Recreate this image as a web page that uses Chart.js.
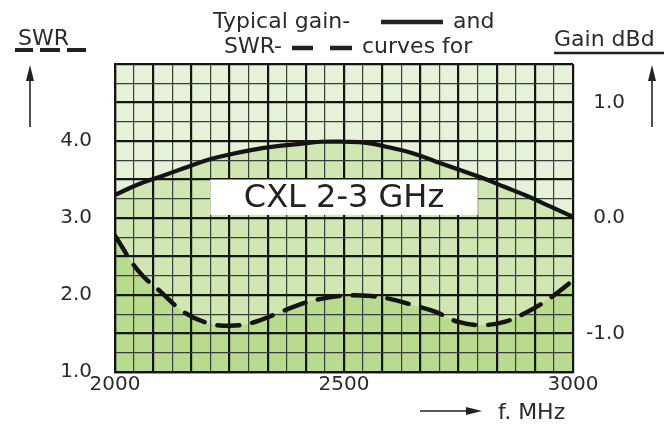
<!DOCTYPE html>
<html>
<head>
<meta charset="utf-8">
<script src="https://cdn.jsdelivr.net/npm/chart.js@4.4.1/dist/chart.umd.min.js"></script>
<style>
  html, body { margin: 0; padding: 0; background: #fff; }
  #wrap { position: relative; width: 671px; height: 430px; }
  #bg { position: absolute; background: #e6f2d8; }
  #chart { position: absolute; left: 0; top: 0; }
</style>
</head>
<body>
<div id="wrap">
  <div id="bg"></div>
  <canvas id="chart" width="671" height="430"></canvas>
</div>
<script>
// frequency points, MHz
var freqs = [2000, 2050, 2100, 2150, 2200, 2250, 2300, 2350, 2400, 2450, 2500,
             2550, 2600, 2650, 2700, 2750, 2800, 2850, 2900, 2950, 3000];
// SWR (dashed)
var swrValues = [2.77, 2.32, 2.04, 1.78, 1.64, 1.60, 1.64, 1.75, 1.87, 1.95, 1.99,
                 1.99, 1.95, 1.87, 1.78, 1.65, 1.61, 1.65, 1.78, 1.96, 2.19];
// gain dBd (solid)
var gainValues = [0.20, 0.29, 0.36, 0.43, 0.50, 0.55, 0.59, 0.62, 0.64, 0.66, 0.66,
                  0.65, 0.61, 0.56, 0.49, 0.42, 0.35, 0.27, 0.19, 0.10, 0.01];

var xLabels = [2000, 2500, 3000];
var swrLabels = [1, 2, 3, 4];
var gainLabels = [-1, 0, 1];

var FONT = '"DejaVu Sans", Verdana, sans-serif';
var TXT = '#2b2b2b';

function pts(vals) {
    return freqs.map(function (f, i) { return { x: f, y: vals[i] }; });
}

function gridColor(ctx) { return ctx.index % 2 ? '#3c3c3c' : '#151515'; }
function gridWidth(ctx) { return ctx.index % 2 ? 1.2 : 2.2; }

function arrow(ctx, x1, y1, x2, y2) {
    var a = Math.atan2(y2 - y1, x2 - x1);
    ctx.strokeStyle = '#222';
    ctx.fillStyle = '#222';
    ctx.lineWidth = 1.6;
    ctx.beginPath();
    ctx.moveTo(x1, y1);
    ctx.lineTo(x2 - 10 * Math.cos(a), y2 - 10 * Math.sin(a));
    ctx.stroke();
    ctx.beginPath();
    ctx.moveTo(x2, y2);
    ctx.lineTo(x2 - 16 * Math.cos(a) + 4 * Math.sin(a), y2 - 16 * Math.sin(a) - 4 * Math.cos(a));
    ctx.lineTo(x2 - 16 * Math.cos(a) - 4 * Math.sin(a), y2 - 16 * Math.sin(a) + 4 * Math.cos(a));
    ctx.closePath();
    ctx.fill();
}

function hline(ctx, x1, x2, y, w) {
    ctx.strokeStyle = '#222';
    ctx.lineWidth = w;
    ctx.beginPath();
    ctx.moveTo(x1, y);
    ctx.lineTo(x2, y);
    ctx.stroke();
}

var decor = {
    id: 'decor',
    afterLayout: function (chart) {
        var a = chart.chartArea, bg = document.getElementById('bg');
        bg.style.left = a.left + 'px';
        bg.style.top = a.top + 'px';
        bg.style.width = (a.right - a.left) + 'px';
        bg.style.height = (a.bottom - a.top) + 'px';
    },
    beforeDatasetsDraw: function (chart) {
        // label box over the grid
        var ctx = chart.ctx, x = chart.scales.x, y = chart.scales.y;
        var l = x.getPixelForValue(2208), r = x.getPixelForValue(2792);
        var t = y.getPixelForValue(3.5), b = y.getPixelForValue(3.04);
        ctx.save();
        ctx.fillStyle = '#fff';
        ctx.fillRect(l, t, r - l, b - t);
        ctx.fillStyle = '#222';
        ctx.font = '32px ' + FONT;
        ctx.textAlign = 'center';
        ctx.textBaseline = 'middle';
        ctx.fillText('CXL 2-3 GHz', (l + r) / 2, (t + b) / 2 + 1);
        ctx.restore();
    },
    afterDraw: function (chart) {
        var ctx = chart.ctx;
        ctx.save();
        ctx.fillStyle = TXT;
        ctx.font = '22px ' + FONT;
        ctx.textBaseline = 'alphabetic';
        ctx.fillText('SWR', 18, 45);
        ctx.fillText('Typical gain-', 213, 28);
        ctx.fillText('and', 453, 28);
        ctx.fillText('SWR-', 224, 53);
        ctx.fillText('curves for', 362, 53);
        ctx.fillText('Gain dBd', 554, 46);
        ctx.fillText('f. MHz', 498, 419);
        // legend marks
        ctx.lineCap = 'butt';
        hline(ctx, 381, 443, 22, 4.5);
        hline(ctx, 292, 313, 48, 4.5);
        hline(ctx, 330, 352, 48, 4.5);
        hline(ctx, 15, 33, 50, 4);
        hline(ctx, 40, 60, 50, 4);
        hline(ctx, 67, 86, 50, 4);
        hline(ctx, 554, 664, 53, 2.5);
        // arrows
        arrow(ctx, 30, 127, 30, 65);
        arrow(ctx, 652, 127, 652, 65);
        arrow(ctx, 420, 411, 482, 411);
        ctx.restore();
    }
};

new Chart(document.getElementById('chart'), {
    type: 'line',
    data: {
        datasets: [{
            label: 'SWR',
            data: pts(swrValues),
            yAxisID: 'y',
            borderColor: '#141414',
            borderWidth: 4.5,
            borderDash: [22, 13],
            borderCapStyle: 'round',
            pointRadius: 0,
            tension: 0.4,
            fill: { target: 'start', above: '#b8db8f', below: '#b8db8f' }
        }, {
            label: 'Gain dBd',
            data: pts(gainValues),
            yAxisID: 'yG',
            borderColor: '#141414',
            borderWidth: 4.2,
            pointRadius: 0,
            tension: 0.4,
            fill: { target: 'start', above: '#d0e7b3', below: '#d0e7b3' }
        }]
    },
    options: {
        responsive: false,
        animation: false,
        layout: { padding: { top: 64, left: 0, right: 46, bottom: 0 } },
        plugins: {
            legend: { display: false },
            tooltip: { enabled: false },
            filler: { drawTime: 'beforeDraw' }
        },
        scales: {
            x: {
                type: 'linear',
                min: 2000,
                max: 3000,
                afterBuildTicks: function (s) {
                    var t = [];
                    for (var k = 0; k <= 24; k++) t.push({ value: 2000 + k * 1000 / 24 });
                    s.ticks = t;
                },
                afterFit: function (s) { s.height = 58; },
                grid: { color: gridColor, lineWidth: gridWidth, drawTicks: false },
                border: { color: '#151515', width: 2.2 },
                ticks: {
                    autoSkip: false,
                    maxRotation: 0,
                    padding: 1,
                    color: TXT,
                    font: { family: FONT, size: 20 },
                    callback: function (v) {
                        var r = Math.round(v);
                        return xLabels.indexOf(r) >= 0 && Math.abs(r - v) < 0.01 ? String(r) : '';
                    }
                }
            },
            y: {
                position: 'left',
                min: 1,
                max: 5,
                afterBuildTicks: function (s) {
                    var t = [];
                    for (var k = 0; k <= 16; k++) t.push({ value: 1 + k * 0.25 });
                    s.ticks = t;
                },
                afterFit: function (s) { s.width = 115; },
                grid: { color: gridColor, lineWidth: gridWidth, drawTicks: false },
                border: { color: '#151515', width: 2.2 },
                ticks: {
                    autoSkip: false,
                    padding: 23,
                    color: TXT,
                    font: { family: FONT, size: 20 },
                    callback: function (v) {
                        return swrLabels.indexOf(v) >= 0 ? v.toFixed(1) : '';
                    }
                }
            },
            yG: {
                position: 'right',
                min: -4 / 3,
                max: 4 / 3,
                afterBuildTicks: function (s) {
                    s.ticks = gainLabels.map(function (v) { return { value: v }; });
                },
                afterFit: function (s) { s.width = 52; },
                grid: { display: false, drawTicks: false },
                border: { display: false },
                ticks: {
                    autoSkip: false,
                    crossAlign: 'far',
                    padding: 13,
                    color: TXT,
                    font: { family: FONT, size: 20 },
                    callback: function (v) { return v.toFixed(1); }
                }
            }
        }
    },
    plugins: [decor]
});
</script>
</body>
</html>
